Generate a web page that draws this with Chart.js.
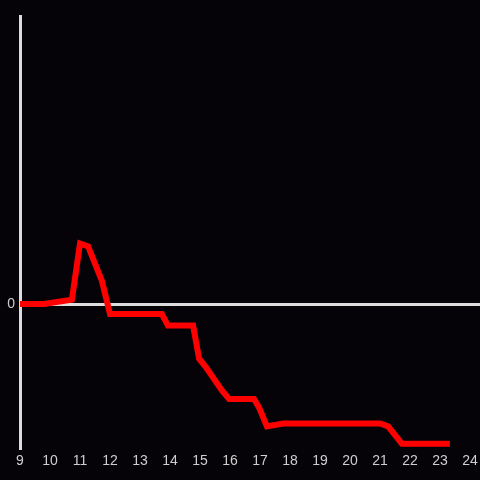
<!DOCTYPE html>
<html lang="en">

<head>
  <meta charset="UTF-8">
  <script src="https://cdn.jsdelivr.net/npm/chart.js@4.4.0/dist/chart.umd.min.js"></script>
  <style>
    body {
      margin: 0;
      background: #050307;
    }
  </style>
  <title>Line</title>
</head>

<body>
  <canvas id="chart" width="480" height="480"></canvas>

  <script>
    // hours of the day and the values
    const hours = [9, 9.8, 10.73, 11.0, 11.27, 11.73, 12.0, 13.73, 13.93, 14.77, 14.97, 15.2, 15.73, 15.97,
      16.8, 16.97, 17.23, 17.77, 21.0, 21.27, 21.73, 23.33]
    const values = [0, 0, 0.03, 0.42, 0.4, 0.16, -0.07, -0.07, -0.15, -0.15, -0.38, -0.44, -0.6, -0.66,
      -0.66, -0.72, -0.85, -0.83, -0.83, -0.85, -0.97, -0.97]
    const yTicks = [0]

    const points = hours.map(function (h, i) { return { x: h, y: values[i] } })

    const labelFont = { family: 'Liberation Sans', size: 14 }

    const chart = new Chart(document.getElementById('chart'), {
      type: 'line',
      data: {
        datasets: [{
          data: points,
          borderColor: '#ff0000',
          borderWidth: 6,
          pointRadius: 0,
          tension: 0,
          fill: false
        }]
      },
      options: {
        responsive: false,
        animation: false,
        layout: { padding: { top: 16, left: 0, right: 0, bottom: 0 } },
        plugins: { legend: { display: false }, tooltip: { enabled: false } },
        scales: {
          x: {
            type: 'linear',
            min: 9,
            max: 24.333,
            afterFit: function (scale) {
              scale.height = 32
              scale.paddingLeft = 0
              scale.paddingRight = 0
            },
            afterBuildTicks: function (scale) {
              let t = []
              for (let h = 9; h <= 24; h++) t.push({ value: h })
              scale.ticks = t
            },
            border: { display: false },
            grid: { display: false, drawTicks: false },
            ticks: { color: '#cfcfcf', font: labelFont, padding: 5, maxRotation: 0, autoSkip: false }
          },
          y: {
            min: -1,
            max: 2,
            afterFit: function (scale) {
              scale.width = 20
              scale.paddingTop = 0
              scale.paddingBottom = 0
            },
            afterBuildTicks: function (scale) {
              scale.ticks = yTicks.map(function (v) { return { value: v } })
            },
            border: { display: true, color: '#dcdcdc', width: 3 },
            grid: { color: '#dcdcdc', lineWidth: 3, drawTicks: false },
            ticks: { color: '#cfcfcf', font: labelFont, padding: 5 }
          }
        }
      }
    });
  </script>
</body>

</html>
